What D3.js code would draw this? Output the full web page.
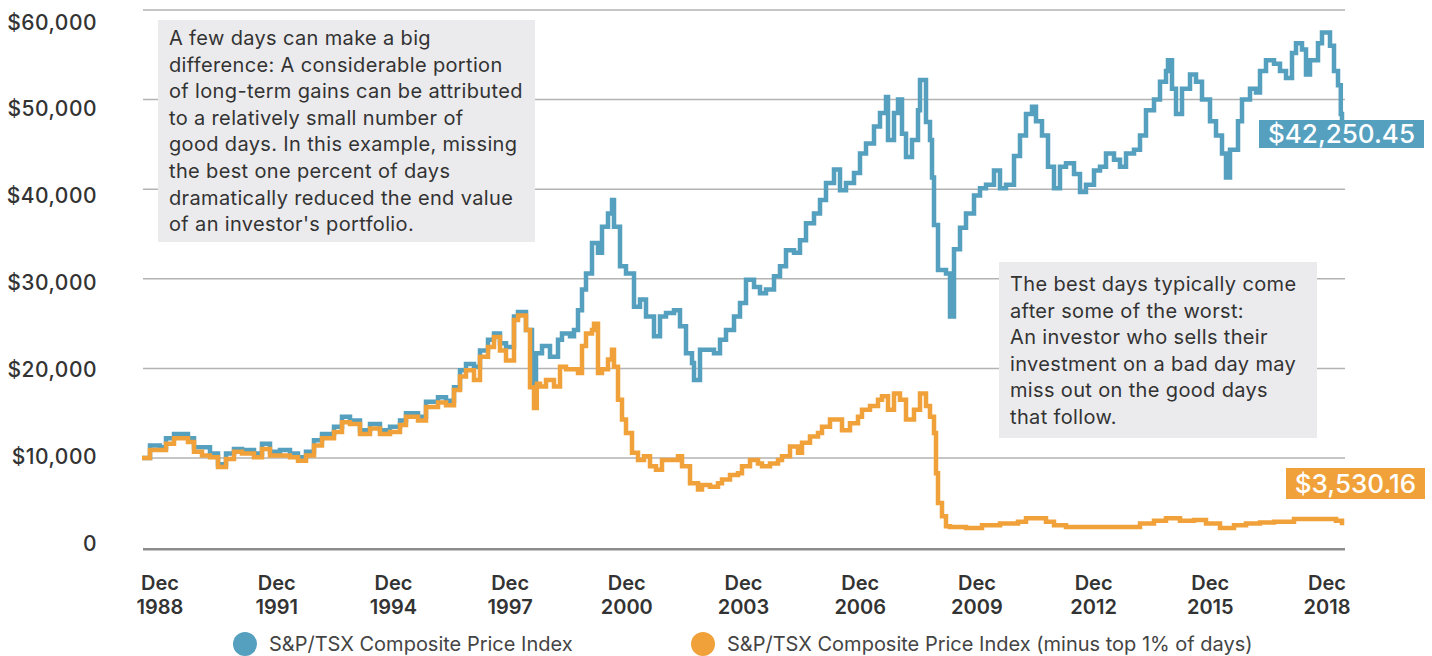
<!DOCTYPE html>
<html>
<head>
<meta charset="utf-8">
<script src="https://cdn.jsdelivr.net/npm/d3@7"></script>
<style>
  body { margin: 0; background: #fff; }
  svg { display: block; font-family: Inter, "Noto Sans", sans-serif; }
</style>
</head>
<body>
<div id="chart"></div>
<script>
// S&P/TSX Composite Price Index, growth of $10,000 (thousands)
const tsxYears = [
  1989.00, 1989.20, 1989.45, 1989.60, 1989.80, 1990.00, 1990.15, 1990.30, 1990.50, 1990.70,
  1990.90, 1991.10, 1991.30, 1991.50, 1991.80, 1992.00, 1992.20, 1992.45, 1992.70, 1992.90,
  1993.10, 1993.30, 1993.50, 1993.80, 1994.00, 1994.20, 1994.45, 1994.70, 1994.95, 1995.20,
  1995.45, 1995.60, 1995.90, 1996.10, 1996.40, 1996.60, 1996.80, 1996.95, 1997.10, 1997.30,
  1997.45, 1997.65, 1997.80, 1997.95, 1998.10, 1998.30, 1998.40, 1998.60, 1998.75, 1998.80,
  1998.85, 1999.00, 1999.20, 1999.40, 1999.50, 1999.70, 1999.80, 1999.90, 2000.00, 2000.10,
  2000.25, 2000.40, 2000.50, 2000.65, 2000.75, 2000.80, 2000.95, 2001.10, 2001.30, 2001.45,
  2001.60, 2001.80, 2001.95, 2002.10, 2002.30, 2002.45, 2002.60, 2002.75, 2002.80, 2002.95,
  2003.10, 2003.30, 2003.45, 2003.60, 2003.80, 2003.95, 2004.10, 2004.30, 2004.45, 2004.60,
  2004.80, 2004.95, 2005.10, 2005.30, 2005.45, 2005.60, 2005.80, 2005.95, 2006.10, 2006.30,
  2006.45, 2006.60, 2006.80, 2006.95, 2007.10, 2007.30, 2007.45, 2007.60, 2007.65, 2007.80,
  2007.90, 2008.00, 2008.10, 2008.25, 2008.40, 2008.45, 2008.60, 2008.70, 2008.75, 2008.80,
  2008.90, 2009.00, 2009.10, 2009.20, 2009.30, 2009.45, 2009.60, 2009.80, 2009.95, 2010.10,
  2010.30, 2010.45, 2010.60, 2010.80, 2010.95, 2011.10, 2011.25, 2011.35, 2011.50, 2011.65,
  2011.80, 2011.95, 2012.10, 2012.30, 2012.45, 2012.60, 2012.80, 2012.95, 2013.10, 2013.30,
  2013.45, 2013.60, 2013.80, 2013.95, 2014.10, 2014.30, 2014.45, 2014.60, 2014.65, 2014.75,
  2014.85, 2015.00, 2015.20, 2015.35, 2015.50, 2015.70, 2015.85, 2016.00, 2016.10, 2016.20,
  2016.40, 2016.50, 2016.70, 2016.85, 2016.95, 2017.10, 2017.30, 2017.45, 2017.60, 2017.75,
  2017.85, 2018.00, 2018.10, 2018.20, 2018.40, 2018.50, 2018.70, 2018.80, 2018.90, 2018.97,
  2019.00
];
const tsxValues = [
  10.0, 11.4, 11.2, 12.2, 12.7, 12.7, 12.2, 11.2, 11.2, 10.5,
  9.3, 10.5, 11.0, 10.9, 10.5, 11.6, 10.7, 10.9, 10.5, 10.1,
  10.7, 12.0, 12.7, 13.5, 14.6, 14.2, 13.1, 13.8, 13.1, 13.5,
  14.2, 15.0, 14.6, 16.3, 16.8, 16.4, 17.9, 19.8, 20.5, 20.2,
  22.0, 23.2, 23.9, 22.8, 22.4, 25.8, 26.3, 24.3, 19.1, 18.0,
  21.7, 22.5, 21.3, 23.2, 23.9, 23.6, 24.3, 26.5, 28.8, 30.6,
  34.0, 32.9, 35.8, 37.3, 38.8, 35.8, 31.4, 30.6, 26.9, 27.7,
  25.8, 23.6, 25.8, 26.2, 26.5, 24.7, 21.7, 20.6, 18.7, 22.1,
  22.1, 21.7, 23.2, 24.3, 25.8, 27.3, 29.9, 29.1, 28.4, 28.8,
  30.3, 31.4, 33.2, 32.9, 34.3, 36.2, 37.3, 38.8, 40.7, 42.2,
  39.9, 40.7, 41.8, 44.0, 45.1, 47.0, 48.5, 50.3, 45.5, 48.5,
  50.0, 46.2, 43.6, 45.5, 48.8, 52.2, 47.5, 45.5, 41.3, 36.0,
  31.0, 31.0, 30.6, 25.8, 33.3, 35.7, 37.3, 39.3, 40.1, 40.5,
  42.1, 40.1, 40.5, 43.7, 46.0, 48.4, 49.2, 47.6, 46.0, 42.5,
  40.1, 42.5, 42.9, 41.7, 39.7, 40.5, 42.1, 42.5, 44.0, 43.3,
  42.5, 44.0, 44.4, 46.0, 48.8, 50.0, 52.0, 53.2, 54.4, 51.2,
  48.4, 51.2, 52.8, 52.0, 50.0, 47.6, 46.0, 44.0, 41.3, 44.4,
  47.6, 50.0, 51.2, 50.8, 53.2, 54.4, 54.0, 53.2, 52.4, 55.2,
  56.3, 55.6, 52.8, 54.4, 56.3, 57.5, 56.0, 53.2, 51.6, 48.4,
  45.5
];

// Same index without the best 1% of days (thousands)
const minusYears = [
  1989.00, 1989.20, 1989.45, 1989.60, 1989.80, 1990.00, 1990.15, 1990.30, 1990.50, 1990.70,
  1990.90, 1991.10, 1991.30, 1991.50, 1991.80, 1992.00, 1992.20, 1992.45, 1992.70, 1992.90,
  1993.10, 1993.30, 1993.50, 1993.80, 1994.00, 1994.20, 1994.45, 1994.70, 1994.95, 1995.20,
  1995.45, 1995.60, 1995.90, 1996.10, 1996.40, 1996.60, 1996.80, 1996.95, 1997.10, 1997.30,
  1997.45, 1997.65, 1997.80, 1997.95, 1998.10, 1998.30, 1998.40, 1998.60, 1998.70, 1998.80,
  1998.87, 1998.95, 1999.10, 1999.30, 1999.45, 1999.60, 1999.80, 1999.90, 2000.00, 2000.10,
  2000.25, 2000.30, 2000.40, 2000.50, 2000.65, 2000.75, 2000.80, 2000.90, 2001.00, 2001.10,
  2001.25, 2001.40, 2001.55, 2001.70, 2001.85, 2002.00, 2002.20, 2002.40, 2002.50, 2002.70,
  2002.90, 2003.00, 2003.20, 2003.40, 2003.50, 2003.70, 2003.90, 2004.00, 2004.20, 2004.40,
  2004.50, 2004.70, 2004.90, 2005.00, 2005.20, 2005.40, 2005.50, 2005.70, 2005.90, 2006.00,
  2006.20, 2006.40, 2006.50, 2006.70, 2006.90, 2007.00, 2007.20, 2007.40, 2007.50, 2007.65,
  2007.80, 2007.95, 2008.10, 2008.30, 2008.45, 2008.60, 2008.70, 2008.80, 2008.85, 2008.90,
  2009.00, 2009.10, 2009.20, 2009.60, 2010.00, 2010.45, 2010.90, 2011.10, 2011.45, 2011.60,
  2011.80, 2012.10, 2012.60, 2013.10, 2013.60, 2013.95, 2014.30, 2014.60, 2014.95, 2015.30,
  2015.60, 2015.95, 2016.30, 2016.60, 2016.95, 2017.30, 2017.80, 2018.25, 2018.60, 2018.85,
  2019.00
];
const minusValues = [
  10.0, 10.9, 10.9, 11.6, 12.2, 12.2, 11.8, 10.7, 10.3, 10.1,
  9.0, 9.9, 10.7, 10.5, 10.1, 11.0, 10.3, 10.3, 10.1, 9.7,
  10.3, 11.4, 12.2, 12.9, 14.0, 13.8, 12.7, 13.3, 12.7, 12.9,
  13.7, 14.6, 14.2, 15.7, 16.2, 15.9, 17.6, 19.1, 19.8, 18.7,
  21.3, 22.4, 23.5, 22.0, 20.9, 25.4, 25.9, 24.3, 17.9, 15.6,
  18.3, 18.0, 18.7, 18.0, 20.2, 19.9, 19.9, 19.5, 22.5, 23.9,
  24.3, 25.0, 19.5, 19.9, 21.0, 22.1, 20.2, 16.5, 14.3, 12.8,
  10.6, 9.8, 10.2, 9.1, 8.7, 9.8, 9.8, 10.2, 9.1, 7.2,
  6.5, 7.0, 6.8, 7.2, 7.6, 8.1, 8.3, 9.1, 9.8, 9.4,
  9.1, 9.4, 9.8, 10.2, 11.3, 10.6, 11.7, 12.4, 12.8, 13.5,
  14.3, 14.3, 13.1, 13.9, 14.6, 15.4, 15.8, 16.5, 16.9, 15.4,
  17.2, 16.5, 14.3, 15.4, 17.2, 15.8, 14.6, 12.8, 8.3, 5.0,
  3.5, 2.4, 2.3, 2.2, 2.5, 2.7, 2.9, 3.3, 3.3, 2.9,
  2.5, 2.3, 2.3, 2.3, 2.3, 2.7, 3.0, 3.3, 3.0, 3.1,
  2.7, 2.2, 2.5, 2.7, 2.8, 2.9, 3.2, 3.2, 3.2, 3.0,
  2.5
];

const yTicks = [0, 10, 20, 30, 40, 50, 60];
const yTickLabels = ['0', '$10,000', '$20,000', '$30,000', '$40,000', '$50,000', '$60,000'];
const xLabels = ['1988', '1991', '1994', '1997', '2000', '2003', '2006', '2009', '2012', '2015', '2018'];

const endLabels = ['$42,250.45', '$3,530.16'];
const legendLabels = ['S&P/TSX Composite Price Index', 'S&P/TSX Composite Price Index (minus top 1% of days)'];

const noteLeft = [
  'A few days can make a big',
  'difference: A considerable portion',
  'of long-term gains can be attributed',
  'to a relatively small number of',
  'good days. In this example, missing',
  'the best one percent of days',
  'dramatically reduced the end value',
  "of an investor's portfolio."
];
const noteRight = [
  'The best days typically come',
  'after some of the worst:',
  'An investor who sells their',
  'investment on a bad day may',
  'miss out on the good days',
  'that follow.'
];

const blue = '#559fbf', orange = '#f0a13a';
const width = 1432, height = 656;

const svg = d3.select('#chart').append('svg')
    .attr('width', width)
    .attr('height', height);

// SCALES
let x = d3.scaleLinear().domain([1989, 2019]).range([142, 1342]);
let y = d3.scaleLinear().domain([0, 60]).range([547.7, 10]);
let yLab = d3.scaleLinear().domain([0, 60]).range([543, 22]);
let xLab = d3.scalePoint().domain(xLabels).range([160, 1327]);

// GRID
svg.append('g').selectAll('line')
    .data(yTicks.filter(d => d > 0)).enter()
    .append('line')
    .attr('x1', 143).attr('x2', 1345)
    .attr('y1', d => y(d)).attr('y2', d => y(d))
    .attr('stroke', '#b3b3b3')
    .attr('stroke-width', 1.5);

svg.append('line')
    .attr('x1', 143).attr('x2', 1345)
    .attr('y1', y(0) + 1.5).attr('y2', y(0) + 1.5)
    .attr('stroke', '#8c8c8c')
    .attr('stroke-width', 2.5);

// Y labels
svg.append('g').selectAll('text')
    .data(yTicks).enter()
    .append('text')
    .attr('x', 97)
    .attr('y', d => yLab(d))
    .attr('dy', '0.36em')
    .attr('text-anchor', 'end')
    .attr('font-size', 21)
    .attr('font-weight', 500)
    .attr('letter-spacing', 0.5)
    .attr('fill', '#333')
    .text((d, i) => yTickLabels[i]);

// X labels
let xl = svg.append('g').selectAll('text')
    .data(xLabels).enter()
    .append('text')
    .attr('text-anchor', 'middle')
    .attr('font-size', 20)
    .attr('font-weight', 600)
    .attr('fill', '#333');
xl.append('tspan').attr('x', d => xLab(d)).attr('y', 590).text('Dec');
xl.append('tspan').attr('x', d => xLab(d)).attr('y', 614).text(d => d);

// NOTES
function note(lines, bx, by, bw, bh, firstBase) {
    let g = svg.append('g');
    g.append('rect')
        .attr('x', bx).attr('y', by)
        .attr('width', bw).attr('height', bh)
        .attr('fill', '#ebebed');
    g.selectAll('text')
        .data(lines).enter()
        .append('text')
        .attr('x', bx + 11)
        .attr('y', (d, i) => firstBase + i * 26.6)
        .attr('font-size', 20)
        .attr('letter-spacing', 0.35)
        .attr('fill', '#333')
        .text(d => d);
}
note(noteLeft, 158, 20, 377, 222, 45);
note(noteRight, 999, 262, 318, 176, 291);

// LINES
let line = d3.line()
    .x(d => x(d[0]))
    .y(d => y(d[1]))
    .curve(d3.curveStepAfter);

svg.append('path')
    .datum(d3.zip(tsxYears, tsxValues))
    .attr('fill', 'none')
    .attr('stroke', blue)
    .attr('stroke-width', 4.5)
    .attr('d', line);

svg.append('path')
    .datum(d3.zip(minusYears, minusValues))
    .attr('fill', 'none')
    .attr('stroke', orange)
    .attr('stroke-width', 4.5)
    .attr('d', line);

// END LABELS
function endLabel(txt, color, bx, by, bw, bh) {
    svg.append('rect')
        .attr('x', bx).attr('y', by)
        .attr('width', bw).attr('height', bh)
        .attr('fill', color);
    svg.append('text')
        .attr('x', bx + bw / 2)
        .attr('y', by + bh / 2)
        .attr('dy', '0.36em')
        .attr('text-anchor', 'middle')
        .attr('font-size', 26)
        .attr('font-weight', 500)
        .attr('fill', '#fff')
        .text(txt);
}
endLabel(endLabels[0], blue, 1259, 120, 165, 28);
endLabel(endLabels[1], orange, 1286, 468, 139, 31);

// LEGEND
let legend = svg.append('g').selectAll('g')
    .data(legendLabels).enter()
    .append('g')
    .attr('transform', (d, i) => 'translate(' + [245, 703][i] + ',644)');
legend.append('circle')
    .attr('r', 12)
    .attr('fill', (d, i) => i ? orange : blue);
legend.append('text')
    .attr('x', 24)
    .attr('y', 7)
    .attr('font-size', 20)
    .attr('fill', '#444')
    .text(d => d);
</script>
</body>
</html>
